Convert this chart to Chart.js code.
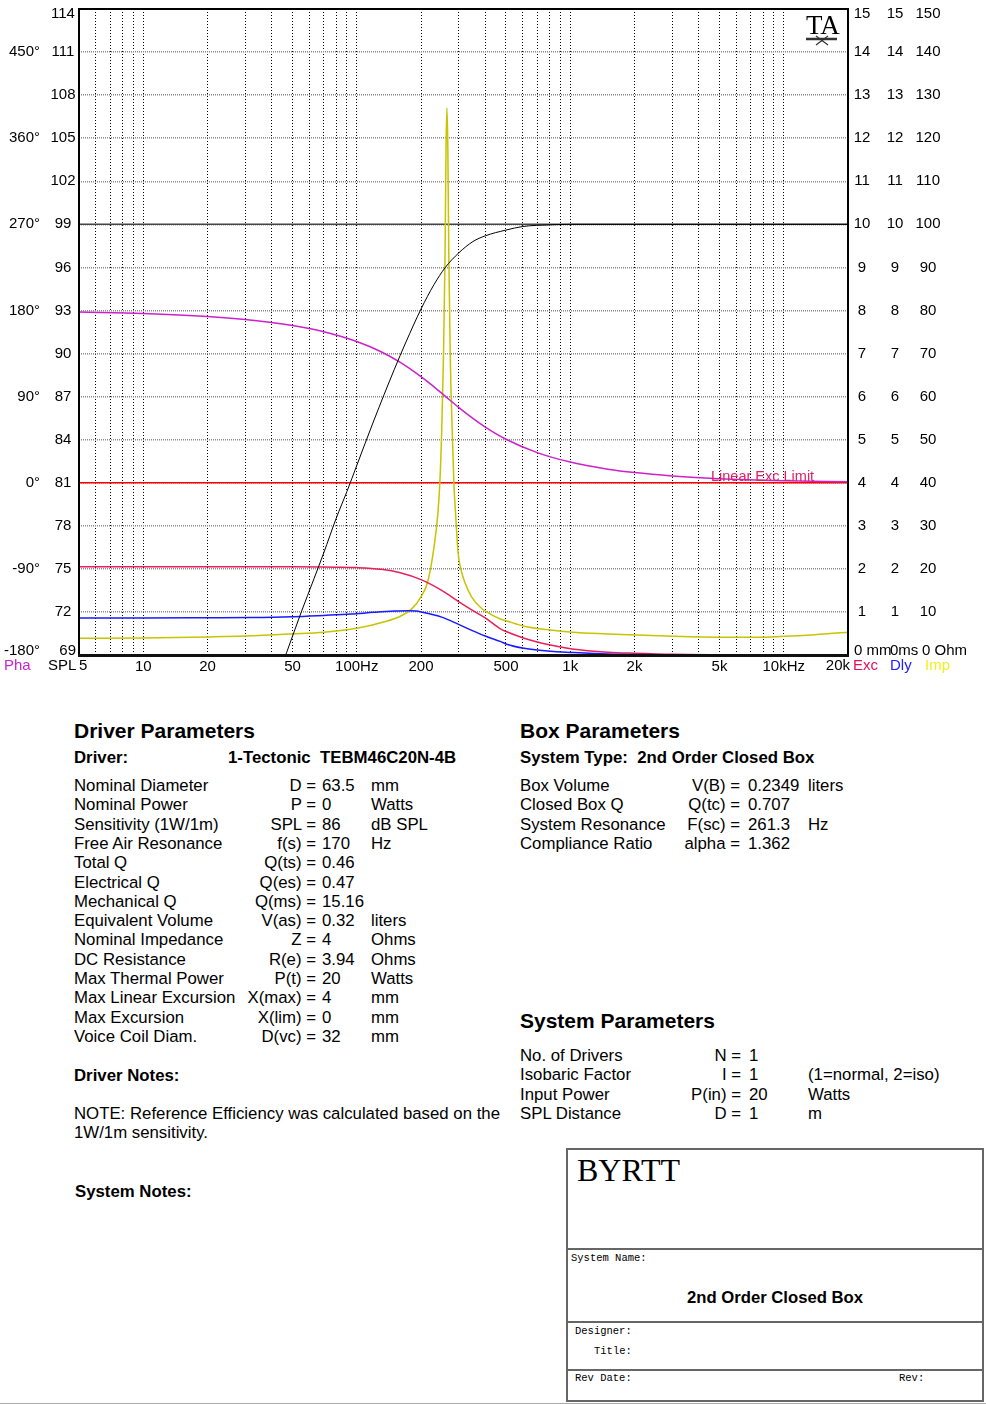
<!DOCTYPE html>
<html><head><meta charset="utf-8">
<script src="https://cdn.jsdelivr.net/npm/chart.js@4.4.0/dist/chart.umd.min.js"></script>
<style>
body{margin:0;background:#fff;width:986px;height:1404px;position:relative;overflow:hidden;font-family:"Liberation Sans",Arial,sans-serif;color:#000}
#c{position:absolute;left:0;top:0}
.t{position:absolute;white-space:pre;line-height:20px;font-size:16.8px}
.h{font-weight:bold;font-size:21px;line-height:24px}
.b{font-weight:bold}
.m{font-family:"Liberation Mono",monospace;font-size:10.5px;line-height:12px}
.ln{position:absolute;background:#666}
</style></head><body>
<canvas id="c" width="986" height="680"></canvas>
<div id="txt"></div>
<script>
// ---------- chart data ----------
const xTickValues = [5,6,7,8,9,10,20,30,40,50,60,70,80,90,100,200,300,400,500,600,700,800,900,1000,2000,3000,4000,5000,6000,7000,8000,9000,10000,20000];
const xLabelValues = [5,10,20,50,100,200,500,1000,2000,5000,10000,20000];
const xLabelTexts  = ['5','10','20','50','100Hz','200','500','1k','2k','5k','10kHz','20k'];
const phaseTicks = [-180,-90,0,90,180,270,360,450];

// SPL (dB)
const splFreq = [40,47,55,63,70,80,90,100,120,150,170,200,230,260,300,350,400,500,600,800,1000,20000];
const splDb   = [66.4,69.2,72.0,74.3,76.1,78.5,80.4,82.2,85.3,88.9,90.8,93.1,94.8,96.0,97.0,97.8,98.2,98.6,98.85,98.96,99.0,99.0];
// Phase (degrees)
const phaseFreq = [5,10,20,30,50,70,100,130,160,200,230,261,300,350,400,500,700,1000,1500,2000,3000,5000,10000,20000];
const phaseDeg  = [178.4,176.9,173.8,170.6,164.3,157.8,147.6,136.9,125.7,110.9,100.2,90,78.8,67.2,58.1,45.4,31.5,21.6,14.2,10.6,7.1,4.2,2.1,1.1];
// Cone excursion (mm)
const excFreq = [5,20,50,80,100,130,160,200,250,300,350,400,473,504,608,808,1020,1500,2000,3000,5000,10000,20000];
const excMm   = [2.05,2.05,2.05,2.04,2.03,1.99,1.91,1.75,1.50,1.24,1.03,0.86,0.60,0.54,0.39,0.23,0.14,0.065,0.04,0.015,0.005,0,0];
// Group delay (ms)
const dlyFreq = [5,10,20,32,50,70,94,120,150,174,190,200,250,300,350,400,473,504,608,808,1020,1500,2000,3000,5000,20000];
const dlyMs   = [0.86,0.86,0.865,0.87,0.89,0.92,0.95,0.99,1.02,1.03,1.02,1.0,0.88,0.71,0.56,0.44,0.31,0.25,0.155,0.086,0.06,0.025,0.012,0.005,0.002,0];
// Impedance (Ohm)
const impFreq = [5,10,20,30,50,70,100,135,160,180,200,215,230,240,245,250,255,259,262,264.5,267,270,274,280,285,291,298,304,320,345,385,400,473,504,608,808,1020,1500,2026,3050,4020,5100,6900,10000,14000,20000];
const impOhm  = [3.88,3.95,4.2,4.4,4.9,5.3,6.2,7.7,9.0,10.6,13.5,17,25,33,40,52,70,92,118,127,118,92,70,52,40,32,24,21,17,13.5,10.8,10.2,8.3,7.9,6.7,5.8,5.3,4.9,4.64,4.33,4.18,4.1,4.1,4.33,4.72,5.3];
// Reference lines
const limitFreq = [5,20000]; const limitMm = [4,4];        // Linear Exc Limit
const refFreq = [5,20000];   const refDb = [99,99];          // 99 dB reference

const pts = (xs, ys) => xs.map((x,i)=>({x:x, y:ys[i]}));
const F = '"Liberation Sans", Arial, sans-serif';
const noPadY = s => { s.paddingTop = 0; s.paddingBottom = 0; };

const extras = {
  id:'extras',
  afterDraw(chart){
    const ctx = chart.ctx, ca = chart.chartArea, sc = chart.scales;
    ctx.save();
    // frame
    ctx.strokeStyle = '#000'; ctx.lineWidth = 2;
    ctx.strokeRect(ca.left, ca.top, ca.right-ca.left, ca.bottom-ca.top);
    ctx.lineWidth = 3; ctx.strokeStyle = '#111';
    ctx.beginPath(); ctx.moveTo(ca.left-1, ca.bottom+0.5); ctx.lineTo(ca.right+1, ca.bottom+0.5); ctx.stroke();
    ctx.font = '15px ' + F; ctx.textBaseline = 'middle';
    // edge tick labels (clamped inside the frame, as in the reference)
    ctx.fillStyle = '#000';
    const yTop = sc.spl.getPixelForValue(114) + 5, yBot = sc.spl.getPixelForValue(69) - 4;
    ctx.textAlign = 'center';
    ctx.fillText('114', 63, yTop);
    ctx.fillText('15', 862, yTop); ctx.fillText('15', 895, yTop); ctx.fillText('150', 928, yTop);
    ctx.textAlign = 'right';
    ctx.fillText('69', 76, yBot);
    ctx.fillText('-180°', 40, yBot);
    ctx.fillText(xLabelTexts[xLabelTexts.length-1], sc.x.getPixelForValue(20000) + 2, 666);
    ctx.textAlign = 'left';
    ctx.fillText(xLabelTexts[0], sc.x.getPixelForValue(5), 666);
    ctx.fillText('0 mm', 854, yBot); ctx.fillText('0ms', 890, yBot); ctx.fillText('0 Ohm', 922, yBot);
    // legend-like axis titles
    const row = 666;
    ctx.fillStyle = '#cc22cc'; ctx.fillText('Pha', 4, row);
    ctx.fillStyle = '#000'; ctx.fillText('SPL', 48, row);
    ctx.fillStyle = '#e0105a'; ctx.fillText('Exc', 853, row);
    ctx.fillStyle = '#2020ff'; ctx.fillText('Dly', 890, row);
    ctx.fillStyle = '#f0f020'; ctx.fillText('Imp', 925, row);
    // limit label
    const yl = sc.exc.getPixelForValue(4);
    ctx.font = '14.5px ' + F; ctx.textBaseline = 'alphabetic';
    ctx.fillStyle = '#dd2266'; ctx.fillText('Linear Exc Limit', 711, yl - 2);
    // TA logo
    ctx.fillStyle = '#000'; ctx.font = '27px "Liberation Serif", serif';
    ctx.fillText('TA', 806, 34);
    ctx.strokeStyle = '#333'; ctx.lineWidth = 2.5;
    ctx.beginPath(); ctx.moveTo(806, 39); ctx.lineTo(837, 39); ctx.stroke();
    ctx.lineWidth = 1.2;
    ctx.beginPath(); ctx.moveTo(816, 36); ctx.lineTo(828, 45); ctx.moveTo(816, 45); ctx.lineTo(828, 36); ctx.stroke();
    ctx.restore();
  }
};

const common = {borderWidth:1.5, pointRadius:0, cubicInterpolationMode:'monotone', fill:false};
const hideEnds = (lo, hi) => (v => (v===lo || v===hi) ? '' : v);
new Chart(document.getElementById('c'), {
  type:'line',
  data:{datasets:[
    {...common, data:pts(refFreq,refDb), yAxisID:'spl', borderColor:'#444', borderWidth:1.5, order:10},
    {...common, data:pts(limitFreq,limitMm), yAxisID:'exc', borderColor:'#ff0000', borderWidth:1.5, order:9},
    {...common, data:pts(impFreq,impOhm), yAxisID:'imp', borderColor:'#c8c400', order:6},
    {...common, data:pts(excFreq,excMm), yAxisID:'exc', borderColor:'#e8205a', order:5},
    {...common, data:pts(dlyFreq,dlyMs), yAxisID:'dly', borderColor:'#1a1aff', order:4},
    {...common, data:pts(phaseFreq,phaseDeg), yAxisID:'pha', borderColor:'#cc22cc', order:3},
    {...common, data:pts(splFreq,splDb), yAxisID:'spl', borderColor:'#000', borderWidth:1, order:1}
  ]},
  options:{
    responsive:false, animation:false, devicePixelRatio:1,
    layout:{padding:{top:9, bottom:0, left:0, right:0}},
    plugins:{legend:{display:false}, tooltip:{enabled:false}},
    scales:{
      x:{type:'logarithmic', min:5, max:20000,
         afterBuildTicks:s=>{s.ticks = xTickValues.map(v=>({value:v}));},
         afterFit:s=>{s.height = 25; s.paddingLeft = 0; s.paddingRight = 0;},
         ticks:{autoSkip:false, maxRotation:0, padding:3, color:'#000', font:{family:F, size:15},
                callback:(v)=>{const i = xLabelValues.indexOf(v); return (i>0 && i<xLabelValues.length-1) ? xLabelTexts[i] : '';}},
         grid:{color:'#000', lineWidth:1, drawTicks:false},
         border:{display:false, dash:[1,2]}},
      spl:{type:'linear', position:'left', min:69, max:114, weight:0,
         afterFit:s=>{s.width = 35; noPadY(s);},
         ticks:{stepSize:3, crossAlign:'center', padding:3.5, color:'#000', font:{family:F, size:15}, callback:hideEnds(69,114)},
         grid:{color:'#8a8a8a', lineWidth:1.5, drawTicks:false},
         border:{display:false, dash:[1,1]}},
      pha:{type:'linear', position:'left', min:-180, max:495, weight:1,
         afterBuildTicks:s=>{s.ticks = phaseTicks.map(v=>({value:v}));},
         afterFit:s=>{s.width = 44; noPadY(s);},
         ticks:{padding:4, color:'#000', font:{family:F, size:15}, callback:v=>v===-180?'':v+'°'},
         grid:{display:false, drawTicks:false}, border:{display:false}},
      exc:{type:'linear', position:'right', min:0, max:15, weight:0,
         afterFit:s=>{s.width = 36; noPadY(s);},
         ticks:{stepSize:1, crossAlign:'center', padding:5.7, color:'#000', font:{family:F, size:15}, callback:hideEnds(0,15)},
         grid:{display:false, drawTicks:false}, border:{display:false}},
      dly:{type:'linear', position:'right', min:0, max:15, weight:1,
         afterFit:s=>{s.width = 28; noPadY(s);},
         ticks:{stepSize:1, crossAlign:'center', padding:2.7, color:'#000', font:{family:F, size:15}, callback:hideEnds(0,15)},
         grid:{display:false, drawTicks:false}, border:{display:false}},
      imp:{type:'linear', position:'right', min:0, max:150, weight:2,
         afterFit:s=>{s.width = 74; noPadY(s);},
         ticks:{stepSize:10, crossAlign:'center', padding:3.5, color:'#000', font:{family:F, size:15}, callback:hideEnds(0,150)},
         grid:{display:false, drawTicks:false}, border:{display:false}}
    }
  },
  plugins:[extras]
});

// ---------- text blocks ----------
const box = document.getElementById('txt');
function add(text, x, cy, cls, right){
  const d = document.createElement('div');
  d.className = 't ' + (cls||'');
  d.textContent = text;
  const lh = cls && cls.indexOf('h')>=0 ? 24 : (cls && cls.indexOf('m')>=0 ? 12 : 20);
  d.style.top = (cy - lh/2) + 'px';
  if (right) d.style.right = (986 - x) + 'px'; else d.style.left = x + 'px';
  box.appendChild(d);
}
add('Driver Parameters', 74, 731, 'h b');
add('Driver:', 74, 758, 'b');
add('1-Tectonic  TEBM46C20N-4B', 228, 758, 'b');
const drv = [["Nominal Diameter","D =","63.5","mm"],["Nominal Power","P =","0","Watts"],["Sensitivity (1W/1m)","SPL =","86","dB SPL"],["Free Air Resonance","f(s) =","170","Hz"],["Total Q","Q(ts) =","0.46",""],["Electrical Q","Q(es) =","0.47",""],["Mechanical Q","Q(ms) =","15.16",""],["Equivalent Volume","V(as) =","0.32","liters"],["Nominal Impedance","Z =","4","Ohms"],["DC Resistance","R(e) =","3.94","Ohms"],["Max Thermal Power","P(t) =","20","Watts"],["Max Linear Excursion","X(max) =","4","mm"],["Max Excursion","X(lim) =","0","mm"],["Voice Coil Diam.","D(vc) =","32","mm"]];
drv.forEach((r,i)=>{const y = 786 + i*19.3; add(r[0],74,y); add(r[1],316,y,'',true); add(r[2],322,y); if(r[3]) add(r[3],371,y);});
add('Driver Notes:', 74, 1076, 'b');
add('NOTE: Reference Efficiency was calculated based on the', 74, 1114);
add('1W/1m sensitivity.', 74, 1133);
add('System Notes:', 75, 1192, 'b');

add('Box Parameters', 520, 731, 'h b');
add('System Type:  2nd Order Closed Box', 520, 758, 'b');
const bx = [["Box Volume","V(B) =","0.2349","liters"],["Closed Box Q","Q(tc) =","0.707",""],["System Resonance","F(sc) =","261.3","Hz"],["Compliance Ratio","alpha =","1.362",""]];
bx.forEach((r,i)=>{const y = 786 + i*19.3; add(r[0],520,y); add(r[1],740,y,'',true); add(r[2],748,y); if(r[3]) add(r[3],808,y);});

add('System Parameters', 520, 1021, 'h b');
const sp = [["No. of Drivers","N =","1",""],["Isobaric Factor","I =","1","(1=normal, 2=iso)"],["Input Power","P(in) =","20","Watts"],["SPL Distance","D =","1","m"]];
sp.forEach((r,i)=>{const y = 1056 + i*19.3; add(r[0],520,y); add(r[1],741,y,'',true); add(r[2],749,y); if(r[3]) add(r[3],808,y);});

// title block
function ln(x,y,w,h,c){const d=document.createElement('div');d.className='ln';d.style.cssText=`left:${x}px;top:${y}px;width:${w}px;height:${h}px;`+(c?`background:${c}`:'');box.appendChild(d);}
ln(566,1148,418,2); ln(566,1148,2,254); ln(982,1148,2,254); ln(566,1400,418,2);
ln(566,1248,418,2); ln(566,1321,418,2); ln(566,1369,418,2);
ln(0,1403,986,1,'#aaa');
const by = document.createElement('div');
by.style.cssText = 'position:absolute;left:577px;top:1150px;font-family:"Liberation Serif",serif;font-size:32px;line-height:40px;';
by.textContent = 'BYRTT'; box.appendChild(by);
add('System Name:', 571, 1258, 'm');
const sn = document.createElement('div');
sn.style.cssText = 'position:absolute;left:567px;width:416px;top:1288px;text-align:center;font-weight:bold;font-size:16.7px;line-height:20px;';
sn.textContent = '2nd Order Closed Box'; box.appendChild(sn);
add('Designer:', 575, 1331, 'm');
add('Title:', 594, 1351, 'm');
add('Rev Date:', 575, 1378, 'm');
add('Rev:', 899, 1378, 'm');
</script>
</body></html>
